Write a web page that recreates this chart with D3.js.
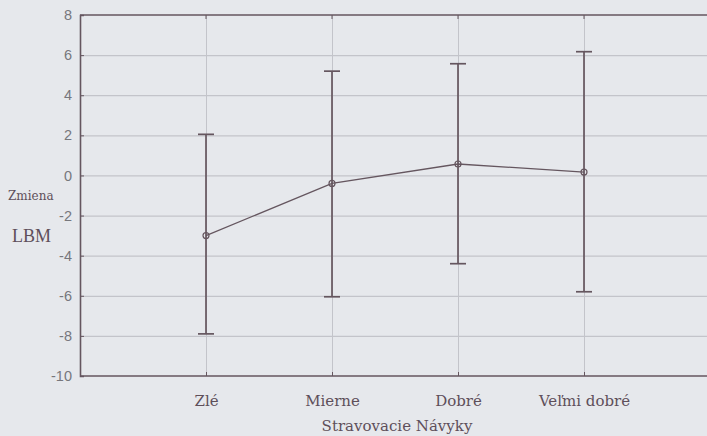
<!DOCTYPE html>
<html>
<head>
<meta charset="utf-8">
<script src="https://cdn.jsdelivr.net/npm/d3@7"></script>
<style>
  html, body { margin: 0; padding: 0; background: #e6e8ec; }
  svg { display: block; }
</style>
</head>
<body>
<svg id="chart" width="707" height="436"></svg>
<script>
// Change in LBM by eating-habit group: mean with interval bounds
const categories = ["Zlé", "Mierne", "Dobré", "Veľmi dobré"];
const means = [-3.0, -0.4, 0.57, 0.17];
const lower = [-7.9, -6.05, -4.4, -5.8];
const upper = [2.05, 5.2, 5.57, 6.17];
const yTicks = [8, 6, 4, 2, 0, -2, -4, -6, -8, -10];

const ink = "#65565f";
const grid = "#c3c4ca";
const serif = "DejaVu Serif, serif";
const svg = d3.select("#chart");

const plot = { left: 80, right: 710, top: 15, bottom: 376 };

// categories sit at positions 1..4 on a 0..5 band
const x = d3.scaleLinear().domain([0, categories.length + 1]).range([plot.left, plot.right]);
const y = d3.scaleLinear().domain([-10, 8]).range([plot.bottom, plot.top]);

const rows = categories.map((c, i) => ({ c, pos: i + 1, mean: means[i], lo: lower[i], hi: upper[i] }));

// plain hyphen for negative tick labels
const fmt = d3.formatLocale({ decimal: ".", thousands: ",", grouping: [3], currency: ["", ""], minus: "-" }).format("d");

// horizontal gridlines
svg.append("g").selectAll("line").data(yTicks.filter(t => t !== 8 && t !== -10)).join("line")
  .attr("x1", plot.left).attr("x2", plot.right)
  .attr("y1", d => y(d) + 0.5).attr("y2", d => y(d) + 0.5)
  .attr("stroke", grid).attr("stroke-width", 1.3);

// vertical gridlines at category positions
svg.append("g").selectAll("line").data(rows).join("line")
  .attr("x1", d => Math.round(x(d.pos)) + 0.5).attr("x2", d => Math.round(x(d.pos)) + 0.5)
  .attr("y1", plot.top).attr("y2", plot.bottom)
  .attr("stroke", grid).attr("stroke-width", 1);

// left axis
const yAxis = d3.axisLeft(y).tickValues(yTicks).tickSize(-4).tickPadding(8).tickFormat(fmt);
const gy = svg.append("g").attr("transform", `translate(${plot.left},0)`).call(yAxis);
gy.select(".domain").attr("stroke", ink).attr("stroke-width", 1.6);
gy.selectAll(".tick line").attr("stroke", ink);
gy.selectAll(".tick text").attr("fill", "#77777c")
  .style("font-family", "Liberation Sans, Arial, sans-serif").style("font-size", "14.5px");

// top and bottom frame lines
svg.append("line").attr("x1", plot.left).attr("x2", plot.right)
  .attr("y1", plot.top).attr("y2", plot.top).attr("stroke", ink).attr("stroke-width", 1.6);
svg.append("line").attr("x1", plot.left).attr("x2", plot.right)
  .attr("y1", plot.bottom).attr("y2", plot.bottom).attr("stroke", ink).attr("stroke-width", 1.6);

// bottom axis ticks and labels
const xAxis = d3.axisBottom(x).tickValues(rows.map(d => d.pos))
  .tickFormat((d, i) => categories[i]).tickSize(-4).tickPadding(19);
const gx = svg.append("g").attr("transform", `translate(0,${plot.bottom})`).call(xAxis);
gx.select(".domain").remove();
gx.selectAll(".tick line").attr("stroke", ink);
gx.selectAll(".tick text").attr("fill", "#5e4f5a")
  .style("font-family", serif).style("font-size", "15px");

// small ticks along the top border
svg.append("g").selectAll("line").data(rows).join("line")
  .attr("x1", d => x(d.pos)).attr("x2", d => x(d.pos))
  .attr("y1", plot.top).attr("y2", plot.top + 4)
  .attr("stroke", ink);

// interval whiskers
const cap = 8;
const eb = svg.append("g").attr("stroke", ink).attr("stroke-width", 1.7);
eb.selectAll(".stem").data(rows).join("line")
  .attr("x1", d => x(d.pos)).attr("x2", d => x(d.pos))
  .attr("y1", d => y(d.lo)).attr("y2", d => y(d.hi));
eb.selectAll(".cap-hi").data(rows).join("line")
  .attr("x1", d => x(d.pos) - cap).attr("x2", d => x(d.pos) + cap)
  .attr("y1", d => y(d.hi)).attr("y2", d => y(d.hi));
eb.selectAll(".cap-lo").data(rows).join("line")
  .attr("x1", d => x(d.pos) - cap).attr("x2", d => x(d.pos) + cap)
  .attr("y1", d => y(d.lo)).attr("y2", d => y(d.lo));

// mean line and markers
svg.append("path").datum(rows)
  .attr("d", d3.line().x(d => x(d.pos)).y(d => y(d.mean)))
  .attr("fill", "none").attr("stroke", ink).attr("stroke-width", 1.3);
svg.append("g").selectAll("circle").data(rows).join("circle")
  .attr("cx", d => x(d.pos)).attr("cy", d => y(d.mean)).attr("r", 3)
  .attr("fill", "none").attr("stroke", ink).attr("stroke-width", 1.2);

// axis titles
svg.append("text").attr("x", 8).attr("y", 200).text("Zmiena")
  .attr("fill", "#5e4f5a").style("font-family", serif).style("font-size", "12px");
svg.append("text").attr("x", 12).attr("y", 242).text("LBM")
  .attr("fill", "#5e4f5a").style("font-family", "Liberation Serif, serif").style("font-size", "18px");
svg.append("text").attr("x", 397).attr("y", 431).attr("text-anchor", "middle").text("Stravovacie Návyky")
  .attr("fill", "#5e4f5a").style("font-family", serif).style("font-size", "15px");
</script>
</body>
</html>
